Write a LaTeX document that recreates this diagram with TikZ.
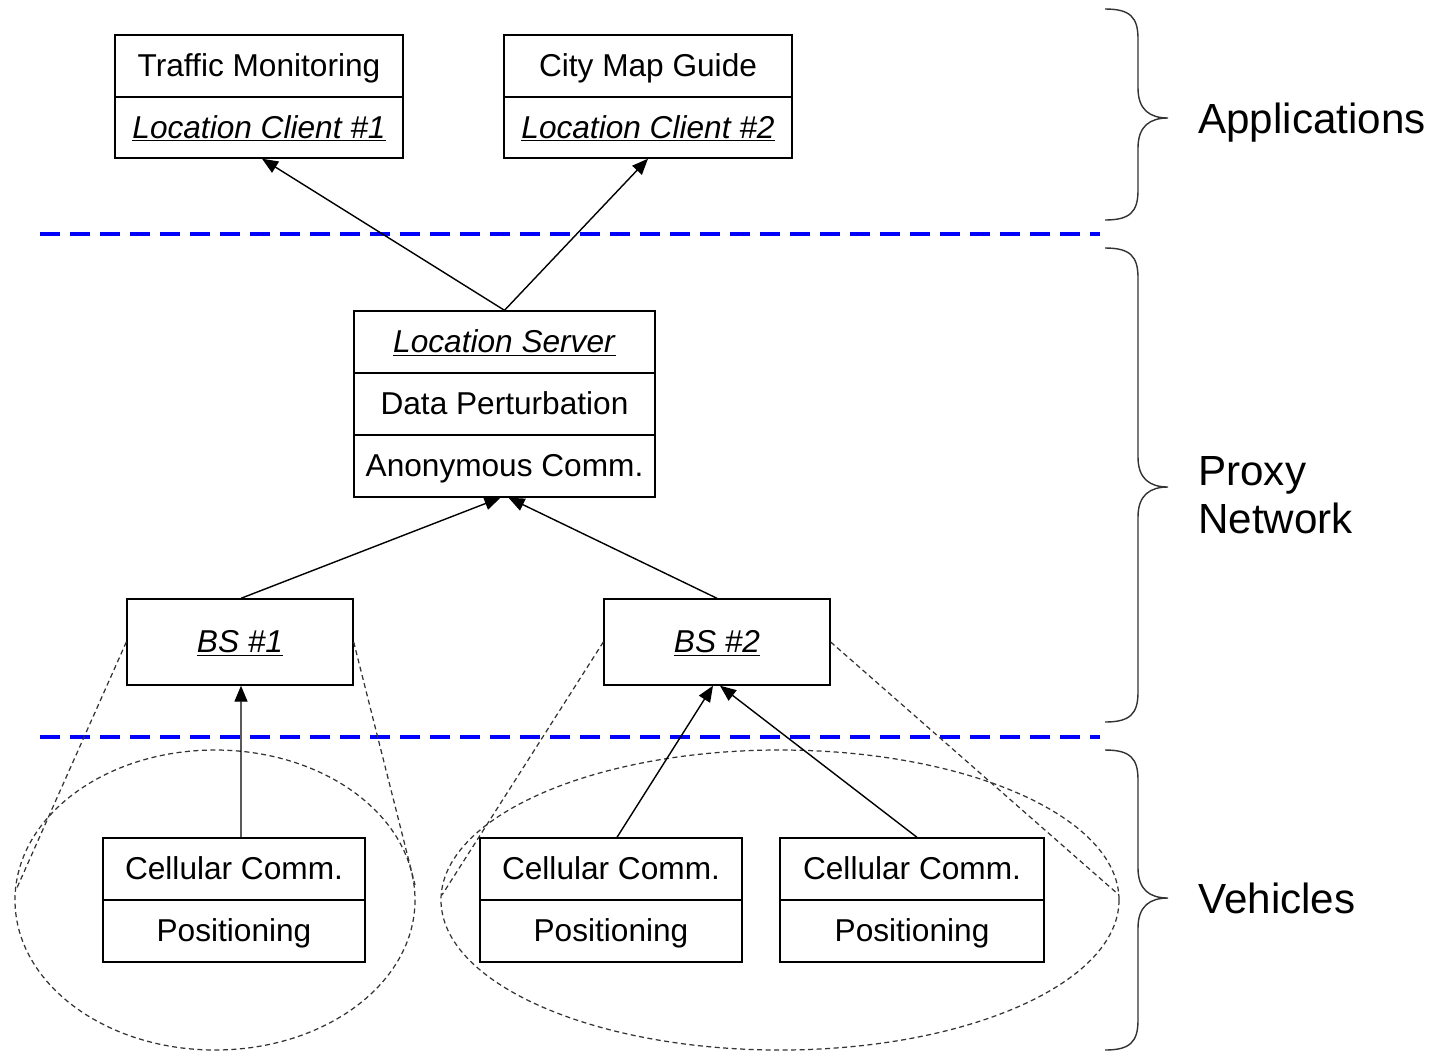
\documentclass[tikz,border=0pt]{standalone}
\usepackage{fontspec}
\setmainfont{Liberation Sans}
\usetikzlibrary{arrows.meta}
\begin{document}
\begin{tikzpicture}[x=0.02cm,y=-0.02cm,
  cell/.style={draw=black,line width=0.8pt,inner sep=0pt,text height=0.42cm,text depth=0pt,font=\fontsize{18}{20}\selectfont},
  wA/.style={minimum width=5.76cm},
  wB/.style={minimum width=6.02cm},
  wC/.style={minimum width=4.52cm},
  wD/.style={minimum width=5.24cm},
  wE/.style={minimum width=5.28cm},
  hrow/.style={minimum height=1.24cm},
  conn/.style={line width=0.8pt,-{Triangle[length=0.32cm,width=0.26cm]}},
  sep/.style={blue,line width=1.8pt,dash pattern=on 0.4cm off 0.2cm},
  zone/.style={black!80,line width=0.7pt,dash pattern=on 0.1cm off 0.07cm},
  brc/.style={black!80,line width=0.8pt},
  lab/.style={anchor=west,font=\fontsize{24}{27}\selectfont,align=left,inner sep=0pt}]
\useasboundingbox (0,0) rectangle (1432,1052);
\fill[white] (0,0) rectangle (1432,1052);

% separators
\draw[sep] (40,234) -- (1100,234);
\draw[sep] (40,737) -- (1100,737);

% application boxes
\node[cell,wA,hrow] (tm) at (259,66) {Traffic Monitoring};
\node[cell,wA,minimum height=1.22cm] (lc1) at (259,127.5) {\underline{\textit{Location Client \#1}}};
\node[cell,wA,hrow] (cmg) at (648,66) {City Map Guide};
\node[cell,wA,minimum height=1.22cm] (lc2) at (648,127.5) {\underline{\textit{Location Client \#2}}};

% location server
\node[cell,wB,hrow] (ls) at (504.5,342) {\underline{\textit{Location Server}}};
\node[cell,wB,hrow] (dp) at (504.5,404) {Data Perturbation};
\node[cell,wB,hrow] (an) at (504.5,466) {Anonymous Comm.};

% base stations
\node[cell,wC,minimum height=1.72cm] (bs1) at (240,642) {\underline{\textit{BS \#1}}};
\node[cell,wC,minimum height=1.72cm] (bs2) at (717,642) {\underline{\textit{BS \#2}}};

% vehicles
\node[cell,wD,hrow] (v1c) at (234,869) {Cellular Comm.};
\node[cell,wD,hrow] (v1p) at (234,931) {Positioning};
\node[cell,wD,hrow] (v2c) at (611,869) {Cellular Comm.};
\node[cell,wD,hrow] (v2p) at (611,931) {Positioning};
\node[cell,wE,hrow] (v3c) at (912,869) {Cellular Comm.};
\node[cell,wE,hrow] (v3p) at (912,931) {Positioning};

% coverage zones
\draw[zone] (215,900) ellipse [x radius=200,y radius=150];
\draw[zone] (780,900) ellipse [x radius=339,y radius=150];
\coordinate (z1l) at (16,890);
\coordinate (z1r) at (415,885);
\coordinate (z2l) at (442,895);
\coordinate (z2r) at (1119,895);
\draw[zone] (bs1.west) -- (z1l);
\draw[zone] (bs1.east) -- (z1r);
\draw[zone] (bs2.west) -- (z2l);
\draw[zone] (bs2.east) -- (z2r);

% connectors
\draw[conn] (ls.north) -- ([xshift=0.06cm]lc1.south);
\draw[conn] (ls.north) -- (lc2.south);
\draw[conn] ([xshift=0.02cm]bs1.north) -- ([xshift=-0.08cm]an.south);
\draw[conn] (bs2.north) -- ([xshift=0.08cm]an.south);
\draw[conn] ([xshift=0.14cm]v1c.north) -- ([xshift=0.02cm]bs1.south);
\draw[conn] ([xshift=0.12cm]v2c.north) -- ([xshift=-0.08cm]bs2.south);
\draw[conn] ([xshift=0.1cm]v3c.north) -- ([xshift=0.06cm]bs2.south);

% braces
\newcommand{\layerbrace}[3]{%
  \draw[brc] (1105,#1) .. controls (1130,#1) and (1138,#1+8) .. (1138,#1+30)
    -- (1138,#2-30) .. controls (1138,#2-8) and (1150,#2) .. (1168,#2)
    .. controls (1150,#2) and (1138,#2+8) .. (1138,#2+30)
    -- (1138,#3-30) .. controls (1138,#3-8) and (1130,#3) .. (1105,#3);}
\layerbrace{9}{118}{220}
\layerbrace{248}{487}{722}
\layerbrace{750}{898}{1050}

\node[lab] (lapp) at (1198,123) {Applications};
\node[lab] (lpn) at (1198,495) {Proxy\\Network};
\node[lab] (lveh) at (1198,898) {Vehicles};
\end{tikzpicture}
\end{document}
